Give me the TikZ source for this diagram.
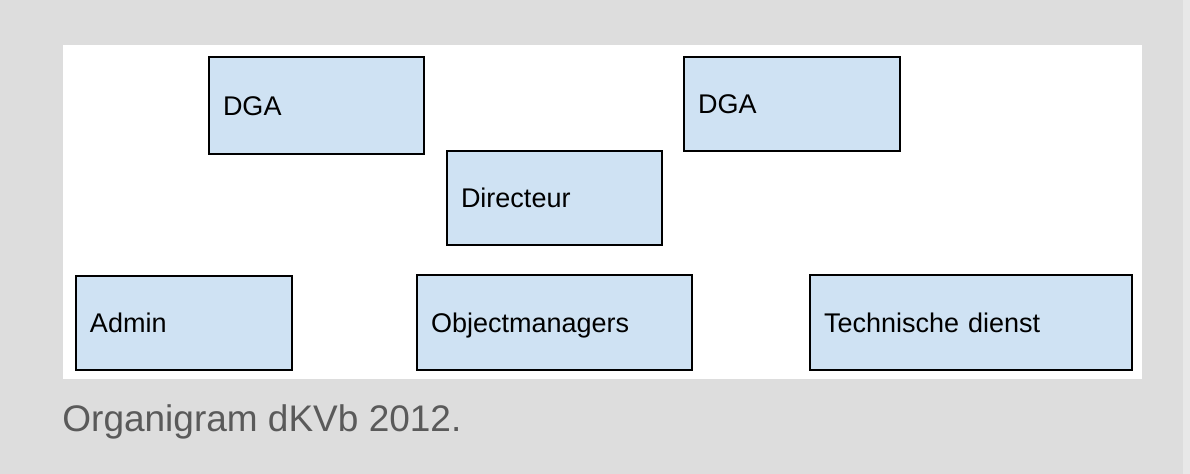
\documentclass[tikz,border=0pt]{standalone}
\usepackage{fontspec}
\setmainfont{Liberation Sans}
\definecolor{bggray}{HTML}{DDDDDD}
\definecolor{stripgray}{HTML}{E8E8E8}
\definecolor{boxblue}{HTML}{CFE2F3}
\definecolor{captiongray}{HTML}{5A5A5A}
\tikzset{
  orgbox/.style={draw=black, line width=1.3pt, fill=boxblue, inner xsep=7pt, inner ysep=0pt,
    text height=9.7pt, text depth=0pt,
    align=left, font=\fontsize{13.5}{16}\selectfont, text=black},
}
\begin{document}
\begin{tikzpicture}[x=0.5pt,y=-0.5pt]
  \useasboundingbox (0,0) rectangle (1190,474);
  \fill[bggray] (0,0) rectangle (1190,474);
  \fill[stripgray] (1183,0) rectangle (1190,474);
  \fill[white] (63,45) rectangle (1142,379);

  \node[orgbox, minimum height=48.5pt, text width=93.5pt] (dga1) at (316.5,105.5) {DGA};
  \node[orgbox, minimum height=47pt, text width=94pt] (dga2) at (792,104) {DGA};
  \node[orgbox, minimum height=47pt, text width=93.5pt] (dir) at (554.5,198) {Directeur};
  \node[orgbox, minimum height=47pt, text width=94pt] (admin) at (184,323) {Admin};
  \node[orgbox, minimum height=47.5pt, text width=123.5pt] (obj) at (554.5,322.5) {Objectmanagers};
  \node[orgbox, minimum height=47.5pt, text width=147pt] (tech) at (971,322.5) {Technische dienst};

  \node[anchor=base west, inner sep=0pt, text=captiongray, font=\fontsize{18.5}{22}\selectfont] (cap) at (62,432) {Organigram dKVb 2012.};
\end{tikzpicture}
\end{document}
